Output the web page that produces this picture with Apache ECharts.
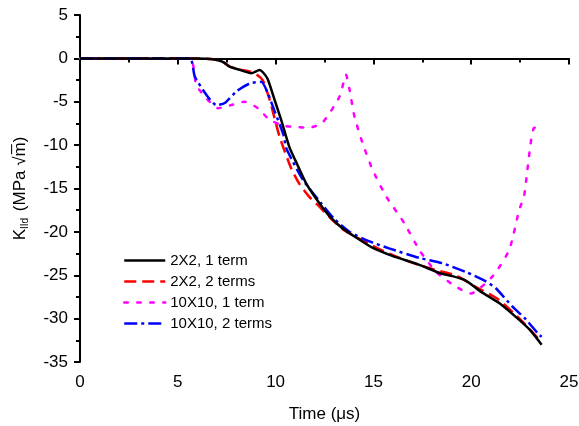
<!DOCTYPE html>
<html>
<head>
<meta charset="utf-8">
<script src="https://cdn.jsdelivr.net/npm/echarts@6/dist/echarts.min.js"></script>
<style>
html, body { margin: 0; padding: 0; background: #fff; }
#main { width: 579px; height: 426px; }
</style>
</head>
<body>
<div id="main"></div>
<script>
// series names
var names = ['2X2, 1 term', '2X2, 2 terms', '10X10, 1 term', '10X10, 2 terms'];

// 2X2, 1 term
var t1 = [0, 5, 6, 6.8, 7.3, 7.65, 8.2, 8.76, 9.18, 9.35, 9.6, 9.95, 10.3, 10.7, 11.1, 11.56, 12.24, 12.8, 13.43, 14.29, 14.97, 16, 17.35, 18.45, 19.04, 19.7, 20.57, 21.43, 22.28, 23, 23.6];
var k1 = [0, 0, 0, -0.1, -0.4, -0.95, -1.35, -1.72, -1.34, -1.6, -2.4, -4.8, -7.2, -10.2, -12.2, -14.4, -16.7, -18.3, -19.6, -20.9, -21.85, -22.8, -23.8, -24.8, -25.1, -25.6, -27.0, -28.2, -29.8, -31.3, -33.0];

// 2X2, 2 terms
var t2 = [0, 5, 6, 6.8, 7.3, 7.65, 8.2, 8.67, 9.0, 9.34, 9.7, 10.2, 10.8, 11.2, 11.7, 12.24, 12.8, 13.5, 14.7, 15.5, 16.8, 18.2, 19.2, 20.2, 21.4, 22.6, 23.55];
var k2 = [0, 0, 0, -0.1, -0.4, -0.95, -1.3, -1.5, -1.8, -2.5, -4.8, -9.0, -12.7, -14.4, -15.9, -17.1, -18.4, -19.8, -21.3, -22.2, -23.4, -24.4, -25.0, -26.3, -27.8, -30.3, -32.6];

// 10X10, 1 term
var t3 = [0, 5.6, 5.95, 6.5, 7.06, 7.7, 8.42, 9.1, 9.7, 10.5, 11.05, 11.7, 12.4, 13.27, 13.6, 13.78, 14.03, 14.45, 14.97, 15.65, 16.58, 17.35, 18.2, 19.2, 19.98, 21.1, 21.94, 22.45, 22.7, 22.87, 23.04, 23.2, 23.55];
var k3 = [0, 0, -3.1, -4.7, -5.75, -5.4, -5.0, -5.75, -7.1, -7.8, -7.9, -8.0, -7.4, -4.4, -1.9, -3.6, -6.7, -9.8, -12.9, -15.9, -19.0, -22.1, -24.6, -26.3, -27.1, -25.1, -22.1, -17.5, -15.9, -12.9, -9.8, -8.05, -7.9];

// 10X10, 2 terms
var t4 = [0, 5.6, 5.87, 6.46, 6.97, 7.4, 8.0, 8.67, 9.27, 9.6, 9.95, 10.4, 10.55, 11.4, 12.33, 13.0, 13.78, 14.8, 15.8, 17.35, 18.5, 19.7, 20.75, 21.26, 22.1, 22.8, 23.4, 23.6];
var k4 = [0, 0, -2.1, -4.2, -5.4, -5.15, -3.8, -2.9, -2.7, -4.0, -6.1, -8.8, -10.4, -14.0, -16.7, -18.5, -20.0, -21.1, -21.9, -23.0, -23.6, -24.6, -25.7, -26.5, -28.6, -30.1, -31.7, -32.1];

function pairs(t, k) {
    var out = [];
    for (var i = 0; i < t.length; i++) {
        out.push([t[i], k[i]]);
    }
    return out;
}

var font = 'Liberation Sans, Arial, sans-serif';

var myChart = echarts.init(document.getElementById('main'));

var option = {
    animation: false,
    backgroundColor: '#fff',
    textStyle: { fontFamily: font },
    grid: { left: 80, right: 10, top: 15, bottom: 64, outerBoundsMode: 'none' },
    legend: {
        orient: 'vertical',
        left: 123,
        top: 253,
        padding: 0,
        itemWidth: 41,
        itemHeight: 14,
        itemGap: 6,
        itemStyle: { opacity: 0 },
        lineStyle: { width: 2.5 },
        textStyle: { fontFamily: font, fontSize: 15, color: '#000' },
        data: names
    },
    xAxis: {
        type: 'value',
        min: 0,
        max: 25,
        interval: 5,
        name: 'Time (μs)',
        nameLocation: 'middle',
        nameGap: 44,
        nameTextStyle: { fontFamily: font, fontSize: 17, color: '#000' },
        axisLine: { lineStyle: { color: '#000', width: 2 } },
        axisTick: { length: 6, lineStyle: { color: '#000', width: 2 } },
        minorTick: { show: true, splitNumber: 2, length: 4, lineStyle: { color: '#000', width: 2 } },
        axisLabel: { margin: 12, fontFamily: font, fontSize: 17, color: '#000' },
        splitLine: { show: false }
    },
    yAxis: {
        type: 'value',
        min: -35,
        max: 5,
        interval: 5,
        name: 'K{s|IId} (MPa √m̅)',
        nameLocation: 'middle',
        nameGap: 50,
        nameTextStyle: {
            fontFamily: font, fontSize: 17, color: '#000',
            rich: { s: { fontFamily: font, fontSize: 10, color: '#000', verticalAlign: 'bottom', padding: [9, 2, 0, 0] } }
        },
        axisLine: { lineStyle: { color: '#000', width: 2 } },
        axisTick: { length: 6, lineStyle: { color: '#000', width: 2 } },
        minorTick: { show: true, splitNumber: 2, length: 4, lineStyle: { color: '#000', width: 2 } },
        axisLabel: { margin: 12, fontFamily: font, fontSize: 17, color: '#000' },
        splitLine: { show: false }
    },
    series: [
        {
            name: names[0], type: 'line', symbol: 'none', smooth: 0.2, z: 4,
            lineStyle: { color: '#000000', width: 2.5, type: 'solid' },
            itemStyle: { color: '#000000' },
            data: pairs(t1, k1)
        },
        {
            name: names[1], type: 'line', symbol: 'none', smooth: 0.2, z: 3,
            lineStyle: { color: '#ff0000', width: 2.5, type: [12, 6] },
            itemStyle: { color: '#ff0000' },
            data: pairs(t2, k2)
        },
        {
            name: names[2], type: 'line', symbol: 'none', smooth: 0.2, z: 2,
            lineStyle: { color: '#ff00ff', width: 2.5, type: [3.5, 9.5], cap: 'round' },
            itemStyle: { color: '#ff00ff' },
            data: pairs(t3, k3)
        },
        {
            name: names[3], type: 'line', symbol: 'none', smooth: 0.2, z: 3,
            lineStyle: { color: '#0000ff', width: 2.5, type: [13, 4, 3, 4] },
            itemStyle: { color: '#0000ff' },
            data: pairs(t4, k4)
        }
    ]
};

myChart.setOption(option);
</script>
</body>
</html>
